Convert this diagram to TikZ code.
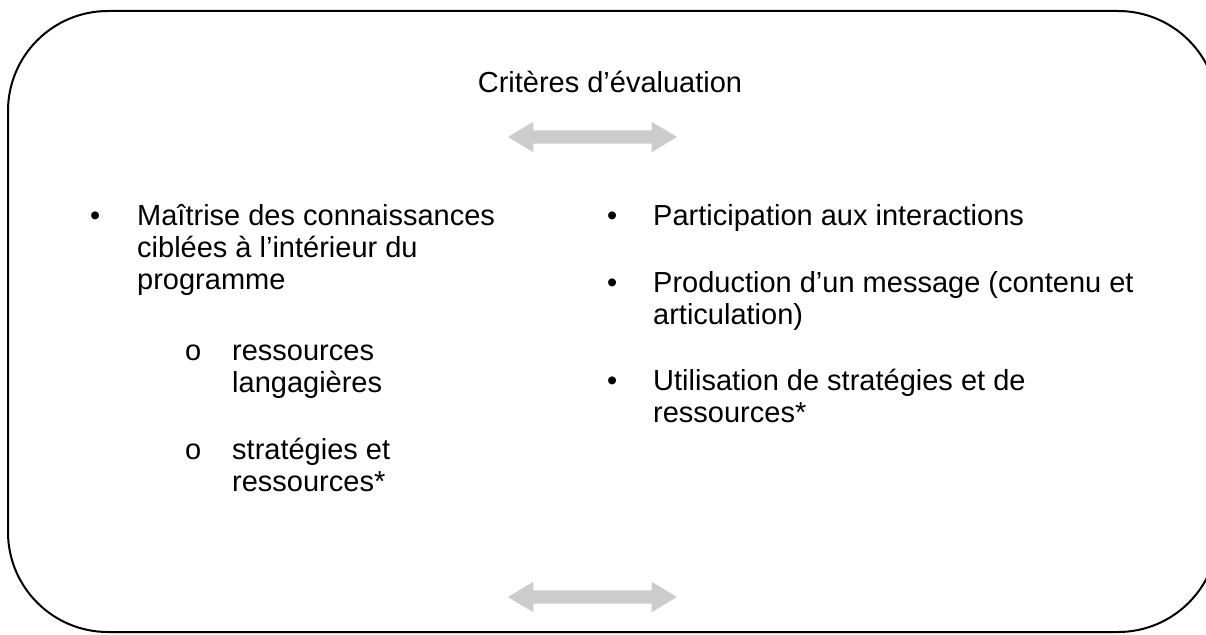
\documentclass[tikz,border=0pt]{standalone}
\usepackage{fontspec}
\setmainfont{Liberation Sans}
\usetikzlibrary{shapes.arrows}
\tikzset{
	frame/.style={
		draw,
		line width=2pt,
		rounded corners=100pt
	},
	arrowbar/.style={
		double arrow,
		draw=none,
		fill=gray!40,
		inner sep=0pt,
		text height=6.5pt,
		text depth=6.5pt,
		minimum height=169pt,
		minimum width=30pt,
		double arrow head extend=8.5pt,
		double arrow tip angle=62
	},
	item/.style={
		anchor=base west,
		inner sep=0pt,
		align=left,
		font=\fontsize{29}{32}\selectfont
	}
}

\begin{document}
\begin{tikzpicture}[x=1pt, y=-1pt]
		\useasboundingbox (0,0) rectangle (1206,634);
		\clip (0,0) rectangle (1206,634);
		
		% outer frame, runs past the right edge
		\draw[frame] (8,11) rectangle (1218,632);
		
		\node[item, anchor=base] (title) at (610,92) {Critères d’évaluation};
		
		% grey double arrows
		\node[arrowbar] (toparrow) at (592.5,137) {};
		\node[arrowbar] (botarrow) at (592.5,597) {};
		
		% left column (multi-line nodes sit on their last baseline)
		\node[item] (lbul) at (90,225) {•};
		\node[item] (ltext) at (137,289) {Maîtrise des connaissances\\ciblées à l’intérieur du\\programme};
		\node[item] (sbulA) at (185,360) {o};
		\node[item] (stextA) at (232,392) {ressources\\langagières};
		\node[item] (sbulB) at (185,459) {o};
		\node[item] (stextB) at (232,491) {stratégies et\\ressources*};
		
		% right column
		\node[item] (rbulA) at (607,225) {•};
		\node[item] (rtextA) at (653,225) {Participation aux interactions};
		\node[item] (rbulB) at (607,292) {•};
		\node[item] (rtextB) at (653,324) {Production d’un message (contenu et\\articulation)};
		\node[item] (rbulC) at (607,390) {•};
		\node[item] (rtextC) at (653,422) {Utilisation de stratégies et de\\ressources*};
\end{tikzpicture}
\end{document}
